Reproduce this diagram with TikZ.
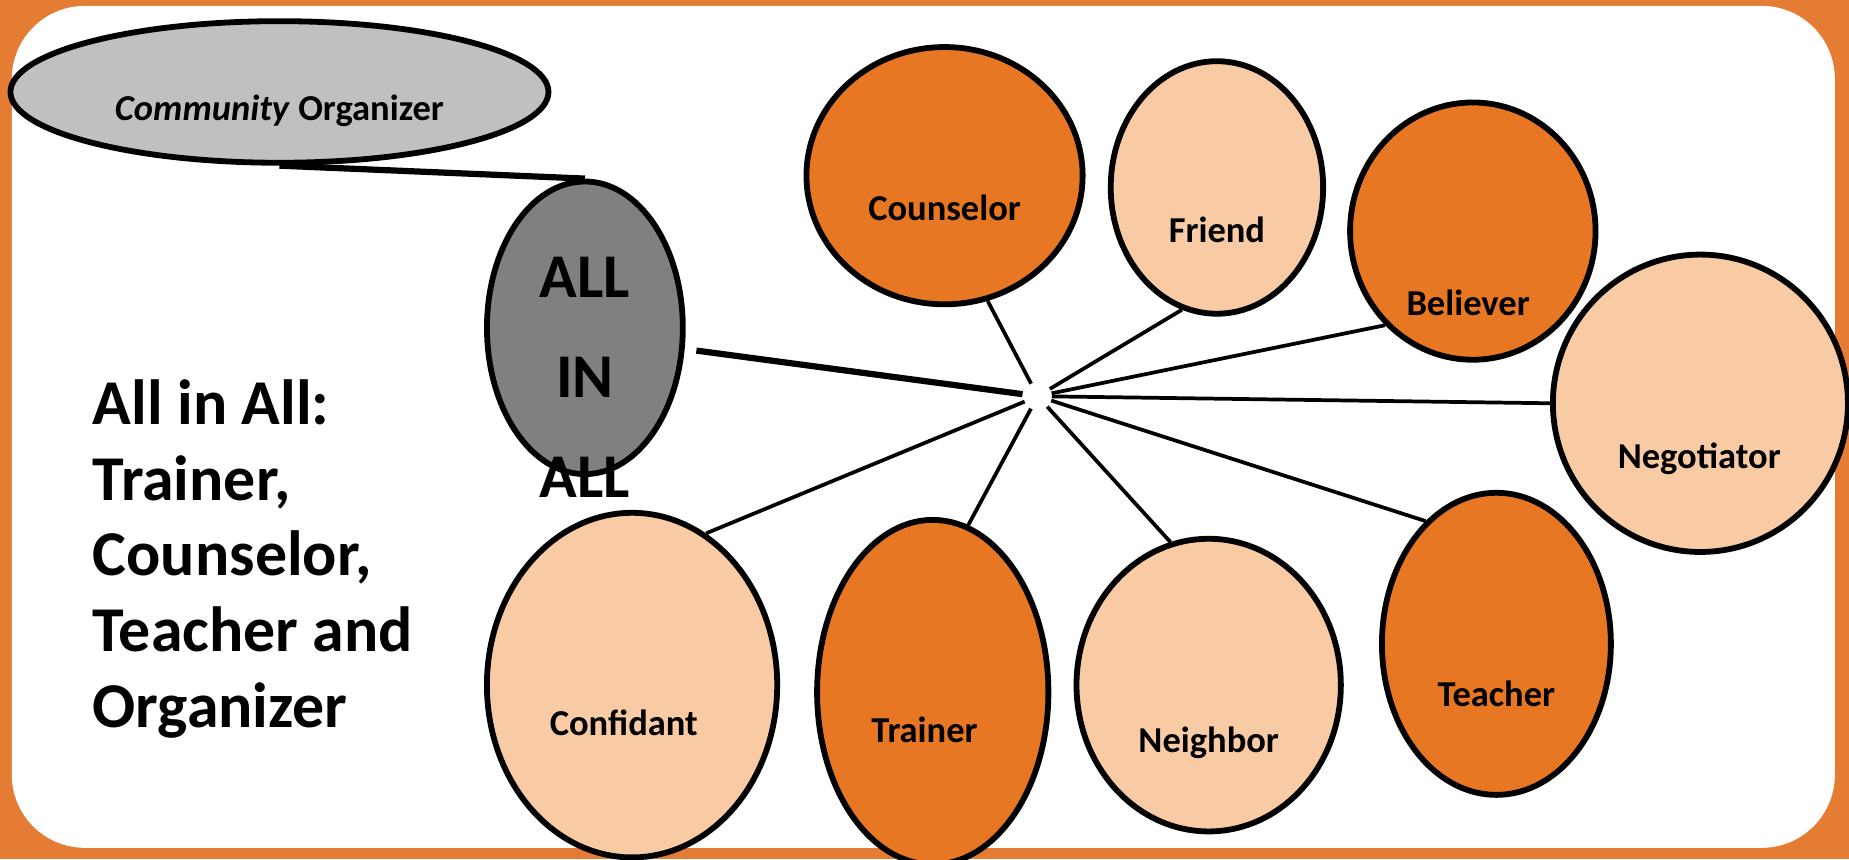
\documentclass[tikz,border=0pt]{standalone}
\usepackage{fontspec}
\setmainfont{Carlito}
\usetikzlibrary{shapes.geometric}
\definecolor{frameOrange}{HTML}{E57C34}
\definecolor{darkOrange}{HTML}{E77722}
\definecolor{lightOrange}{HTML}{F8CBA4}
\definecolor{allGray}{HTML}{808080}
\definecolor{orgGray}{HTML}{C0C0C0}

\begin{document}
\begin{tikzpicture}
[x=0.01cm,y=-0.01cm,%
  nodeDecorate/.style={shape=ellipse,draw,line width=1.4pt,inner sep=0pt},%
  textDecorate/.style={font=\fontsize{8.8}{10}\selectfont\bfseries,inner sep=0pt},%
  lineDecorate/.style={-,line width=0.9pt,shorten <=0.12cm},%
  thickDecorate/.style={-,line width=1.5pt}]
\useasboundingbox (0,0) rectangle (1568,728.5);
%% frame
\fill[frameOrange] (0,0) rectangle (1568,728.5);
\fill[white,rounded corners=0.62cm] (10,5) rectangle (1556,719);
%% role ellipses
\foreach \nodename/\x/\y/\rx/\ry/\colour in {
  counselor/801/149/117/109/darkOrange, friend/1032/159/90/107/lightOrange,
  believer/1249/196/104/109/darkOrange, negotiator/1442/342/125/126/lightOrange,
  teacher/1269/546/97/128/darkOrange, neighbor/1025/581/112/124/lightOrange,
  trainer/791/587/98/146/darkOrange, confidant/536/581/123/146/lightOrange}
{
  \node (\nodename) at (\x,\y) [nodeDecorate,fill=\colour,
    minimum width=\rx*0.02cm,minimum height=\ry*0.02cm] {};
}
\foreach \nodename/\x/\y/\word in {
  counselor/801/176/Counselor, friend/1032/195/Friend,
  believer/1245/257/Believer, negotiator/1441/389/Negotiator,
  teacher/1269/588/Teacher, neighbor/1025/630/Neighbor,
  trainer/784/619/Trainer, confidant/529/613/Confidant}
{
  \node (\nodename-text) at (\x,\y) [textDecorate] {\word};
}
%% organizer and all in all
\node (organizer) at (237,78) [nodeDecorate,fill=orgGray,
  minimum width=4.56cm,minimum height=1.2cm] {};
\node (organizer-text) at (237,94) [textDecorate] {\textit{Community} Organizer};
\node (allin) at (496,278) [nodeDecorate,fill=allGray,
  minimum width=1.66cm,minimum height=2.48cm] {};
\node (allin-text) at (496,320) [textDecorate,align=center,
  font=\fontsize{15}{24}\selectfont\bfseries] {ALL\\IN\\ALL};
\node (summary) at (78,474) [anchor=west,align=left,inner sep=0pt,
  font=\fontsize{15.4}{18.3}\selectfont\bfseries]
  {All in All:\\Trainer,\\Counselor,\\Teacher and\\Organizer};
%% edges or lines
\coordinate (hub) at (880,336);
\draw[thickDecorate] (organizer.south) -- (allin.north);
\draw[thickDecorate,shorten <=0.1cm,shorten >=0.13cm] (allin.348) -- (hub);
\path
\foreach \endnode/\ang in {
  counselor/289, friend/254, believer/227, negotiator/180,
  teacher/120, neighbor/105, trainer/78, confidant/64}
{
  (hub) edge[lineDecorate] (\endnode.\ang)
};
\end{tikzpicture}
\end{document}
